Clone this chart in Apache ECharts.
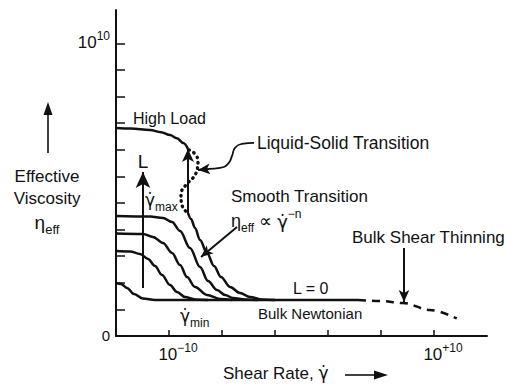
<!DOCTYPE html>
<html><head><meta charset="utf-8">
<script src="https://cdn.jsdelivr.net/npm/echarts@6/dist/echarts.min.js"></script>
<style>html,body{margin:0;padding:0;background:#fff}#c{width:507px;height:384px}</style>
</head><body><div id="c"></div>
<script>
// ---- axis ticks / labels ----
const yTickValues = [0,1,2,3,4,5,6,7,8,9,10,11];
const yLabelValues = [0, 11];
const yLabelTexts = ['0', '10^10'];
const xTickValues = [1,2,3,4,5,6];
const xLabelValues = [1, 6];
const xLabelTexts = ['10^−10', '10^+10'];

// ---- curves (x: decades from left edge, y: linear tick units) ----
const curveHighLoad = [[0,7.82],[0.28,7.80],[0.64,7.74],[0.85,7.66],[1.02,7.55],[1.15,7.43],[1.27,7.25],[1.36,7.02]];
const curveE = [[1.358,4.624],[1.415,4.398],[1.491,4.06],[1.585,3.609],[1.717,3.12],[1.849,2.632],[1.981,2.218],[2.151,1.842],[2.34,1.617],[2.528,1.466],[2.755,1.372],[3.0,1.353]];
const curveA = [[0,4.511],[0.642,4.492],[0.887,4.436],[1.057,4.286],[1.208,3.947],[1.396,3.308],[1.585,2.594],[1.736,2.068],[1.906,1.729],[2.057,1.541],[2.208,1.429],[2.434,1.372],[2.679,1.353]];
const curveB = [[0,3.853],[0.509,3.835],[0.698,3.722],[0.887,3.496],[1.057,3.12],[1.208,2.669],[1.34,2.218],[1.491,1.842],[1.717,1.541],[1.962,1.391],[2.189,1.353]];
const curveC = [[0,3.195],[0.264,3.177],[0.453,3.083],[0.604,2.895],[0.736,2.632],[0.868,2.293],[1.019,1.917],[1.151,1.654],[1.302,1.466],[1.491,1.372],[1.736,1.353]];
const curveBulkNewtonian = [[0,1.992],[0.094,1.955],[0.208,1.805],[0.34,1.579],[0.509,1.41],[0.736,1.353],[4.566,1.353]];
const curveShearThinning = [[4.566,1.353],[4.98,1.316],[5.415,1.24],[5.92,0.98],[6.43,0.66]];
const curveLiquidSolid = [[1.377,6.99],[1.49,6.84],[1.547,6.54],[1.528,6.24],[1.453,5.94],[1.32,5.68],[1.226,5.30],[1.245,4.92],[1.358,4.62]];
// annotation leader paths
const leaderLiquidSolid = [[2.604,7.256],[2.377,7.218],[2.245,7.068],[2.189,6.767],[2.113,6.466],[1.962,6.316],[1.755,6.278]];
const arrowLiquidSolid = [[1.755,6.278],[1.547,6.241]];
const arrowSmooth = [[2.283,4.098],[1.604,2.97]];
const arrowBulkThinning = [[5.434,3.308],[5.434,1.278]];
const arrowLoad = [[0.509,1.805],[0.509,6.165]];
const arrowGammaMax = [[1.358,4.624],[1.358,7.03]];

const FONT = 'Liberation Sans, Arial, Helvetica, sans-serif';
const GFONT = 'DejaVu Sans, sans-serif';
const INK = '#111';

function solid(data, extra) {
  return Object.assign({
    type: 'line', data: data, symbol: 'none', smooth: 0.35, smoothMonotone: 'x',
    lineStyle: { color: INK, width: 2.5 }, silent: true, z: 3
  }, extra || {});
}
function arrowItem(seg, size, curv) {
  return [
    { coord: seg[0], symbol: 'none', lineStyle: { color: INK, width: 2, type: 'solid', curveness: curv || 0 } },
    { coord: seg[1], symbol: 'arrow', symbolSize: size }
  ];
}

function txt(x, y, text, size, rich, align) {
  return {
    type: 'text', x: x, y: y, silent: true,
    style: {
      text: text, fill: INK, fontFamily: FONT, fontSize: size,
      align: align || 'left', verticalAlign: 'middle',
      textAlign: align || 'left', textVerticalAlign: 'middle',
      rich: rich
    }
  };
}
const subRich = (b, s) => ({
  b: { fontSize: b, fontFamily: FONT, fill: INK, lineHeight: b + 4, verticalAlign: 'bottom' },
  g: { fontSize: b, fontFamily: GFONT, fill: INK, lineHeight: b + 4, verticalAlign: 'bottom' },
  s: { fontSize: s, fontFamily: FONT, fill: INK, verticalAlign: 'bottom', lineHeight: s, padding: [0,0,-4,0] },
  p: { fontSize: s, fontFamily: FONT, fill: INK, verticalAlign: 'top', lineHeight: s }
});
const supText = t => { const k = t.split('^'); return k.length > 1 ? '{b|' + k[0] + '}{p|' + k[1] + '}' : '{b|' + k[0] + '}'; };

const chart = echarts.init(document.getElementById('c'), null, { renderer: 'svg' });
chart.setOption({
  animation: false,
  backgroundColor: '#fff',
  grid: { left: 116, right: 20, top: 10, bottom: 48 },
  xAxis: {
    type: 'value', min: 0, max: 7,
    axisLine: { lineStyle: { color: INK, width: 2 } },
    splitLine: { show: false },
    axisTick: { inside: true, length: 6, customValues: xTickValues, lineStyle: { color: INK, width: 1.5 } },
    axisLabel: { show: false }
  },
  yAxis: {
    type: 'value', min: 0, max: 12.25,
    axisLine: { lineStyle: { color: INK, width: 2 } },
    splitLine: { show: false },
    axisTick: { inside: true, length: 9, customValues: yTickValues, lineStyle: { color: INK, width: 1.5 } },
    axisLabel: { show: false }
  },
  series: [
    solid(curveHighLoad),
    solid(curveE),
    solid(curveA),
    solid(curveB),
    solid(curveC),
    solid(curveBulkNewtonian, {
      markLine: {
        silent: true, animation: false, label: { show: false },
        lineStyle: { type: 'solid', color: INK, width: 2 },
        data: [
          arrowItem(arrowLoad, [11, 16]),
          arrowItem(arrowGammaMax, [9, 13]),
          arrowItem(arrowSmooth, [8, 12], 0.15),
          arrowItem(arrowBulkThinning, [8, 12]),
          arrowItem(arrowLiquidSolid, [8, 12])
        ]
      }
    }),
    solid(curveShearThinning, { lineStyle: { color: INK, width: 2.5, type: [8, 6] } }),
    solid(curveLiquidSolid, { smooth: 0.5, smoothMonotone: null, lineStyle: { color: INK, width: 3.4, type: [0.5, 5], cap: 'round' } }),
    solid(leaderLiquidSolid, { smooth: 0.5, smoothMonotone: null, lineStyle: { color: INK, width: 1.8 } })
  ]
});

// tick labels placed through the axis scales
const tickLabels = [];
xLabelValues.forEach((v, i) => {
  const p = chart.convertToPixel({ xAxisIndex: 0, yAxisIndex: 0 }, [v, 0]);
  tickLabels.push(txt(p[0] + 9, p[1] + 16, supText(xLabelTexts[i]), 17, subRich(17, 12), 'center'));
});
yLabelValues.forEach((v, i) => {
  const p = chart.convertToPixel({ xAxisIndex: 0, yAxisIndex: 0 }, [0, v]);
  tickLabels.push(txt(p[0] - 6, p[1] - 3, supText(yLabelTexts[i]), i === 0 ? 15 : 17, subRich(i === 0 ? 15 : 17, 12), 'right'));
});

chart.setOption({
  graphic: tickLabels.concat([
    txt(133, 118, 'High Load', 16),
    txt(257, 143, 'Liquid-Solid Transition', 17.5),
    txt(231, 196, 'Smooth Transition', 17),
    txt(231, 219, '{b|η}{s|eff}{b| ∝ }{g|γ̇}{p|−n}', 17, subRich(18, 12)),
    txt(352, 237, 'Bulk Shear Thinning', 17),
    txt(293, 288, 'L = 0', 16),
    txt(258, 313, 'Bulk Newtonian', 15),
    txt(180, 314, '{g|γ̇}{s|min}', 17, subRich(17, 12)),
    txt(145, 198, '{g|γ̇}{s|max}', 17, subRich(17, 12)),
    txt(143, 161, 'L', 19, null, 'center'),
    txt(47, 176, 'Effective', 17, null, 'center'),
    txt(47, 198, 'Viscosity', 17, null, 'center'),
    txt(47, 220, '{b|η}{s|eff}', 17, subRich(19, 13), 'center'),
    txt(223, 371, '{b|Shear Rate, }{g|γ̇}', 17, subRich(17, 12)),
    { type: 'line', silent: true, shape: { x1: 48, y1: 153, x2: 48, y2: 112 }, style: { stroke: INK, lineWidth: 1.6 } },
    { type: 'polygon', silent: true, shape: { points: [[48,102],[43.5,115],[52.5,115]] }, style: { fill: INK } },
    { type: 'line', silent: true, shape: { x1: 345, y1: 375, x2: 376, y2: 375 }, style: { stroke: INK, lineWidth: 1.6 } },
    { type: 'polygon', silent: true, shape: { points: [[388,375],[374,370.5],[374,379.5]] }, style: { fill: INK } }
  ])
});
</script></body></html>
